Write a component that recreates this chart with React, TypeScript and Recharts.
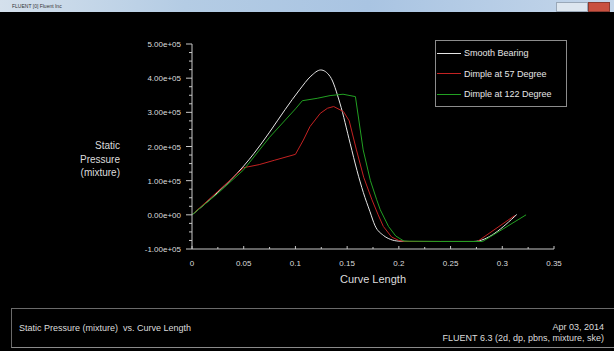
import { LineChart, Line, XAxis, YAxis, Legend } from 'recharts';

// series names as shown in the legend box
const seriesNames = ['Smooth Bearing', 'Dimple at 57 Degree', 'Dimple at 122 Degree'];

// curve length (m) / static pressure (Pa)
const smoothX = [0, 0.025, 0.05, 0.06, 0.075, 0.09, 0.104, 0.115, 0.1245, 0.1335, 0.143, 0.153, 0.1595, 0.1657, 0.172, 0.177, 0.185, 0.192, 0.2, 0.21, 0.24, 0.272, 0.314];
const smoothP = [0, 66000, 143000, 180000, 242000, 308000, 366000, 406000, 424000, 405000, 327000, 208000, 130000, 65000, 10000, -32000, -60000, -72000, -77000, -78000, -78000, -78000, 1000];

const dimple57X = [0, 0.025, 0.05, 0.055, 0.065, 0.08, 0.1, 0.1077, 0.114, 0.124, 0.131, 0.137, 0.1465, 0.152, 0.159, 0.166, 0.174, 0.18, 0.185, 0.193, 0.2, 0.205, 0.24, 0.276, 0.312];
const dimple57P = [0, 69000, 138000, 141000, 147000, 160000, 177000, 219000, 258000, 297000, 312000, 317000, 302000, 275000, 190000, 110000, 44000, 0, -34000, -65000, -75000, -78000, -78000, -78000, -2000];

const dimple122X = [0, 0.025, 0.05, 0.075, 0.1, 0.1067, 0.121, 0.1335, 0.146, 0.158, 0.1655, 0.1725, 0.1786, 0.182, 0.19, 0.197, 0.205, 0.24, 0.281, 0.323];
const dimple122P = [0, 63000, 132000, 227000, 310000, 334000, 341000, 349000, 353000, 346000, 190000, 100000, 44000, 15000, -34000, -62000, -77000, -78000, -78000, 0];

const xTicks = [0, 0.025, 0.05, 0.075, 0.1, 0.125, 0.15, 0.175, 0.2, 0.225, 0.25, 0.275, 0.3, 0.325, 0.35];
const yTicks = [-100000, -75000, -50000, -25000, 0, 25000, 50000, 75000, 100000, 125000, 150000, 175000, 200000, 225000, 250000, 275000, 300000, 325000, 350000, 375000, 400000, 425000, 450000, 475000, 500000];

const toPoints = (xs: number[], ps: number[]) => xs.map((x, i) => ({ x, p: ps[i] }));

const FONT = '"Liberation Sans", Arial, sans-serif';
const AXIS = '#c8c8c8';
const TEXT = '#dcdcdc';

const fmtExp = (v: number) => {
  const [m, e] = v.toExponential(2).split('e');
  const n = Number(e);
  return `${m}e${n < 0 ? '-' : '+'}${String(Math.abs(n)).padStart(2, '0')}`;
};

const YTick = ({ x, y, payload }: any) => {
  const v = payload.value;
  const major = v % 100000 === 0;
  return (
    <g>
      <line x1={x - (major ? 6 : 3)} x2={x} y1={y} y2={y} stroke={AXIS} />
      {major && (
        <text x={x - 11} y={y} dy={3} textAnchor='end' fill={TEXT} fontSize={8} fontFamily={FONT}>
          {fmtExp(v)}
        </text>
      )}
    </g>
  );
};

const XTick = ({ x, y, payload }: any) => {
  const v = payload.value;
  const major = Math.round(v * 1000) % 50 === 0;
  return (
    <g>
      <line x1={x} x2={x} y1={y} y2={y - (major ? 3 : 2)} stroke={AXIS} />
      {major && (
        <text x={x} y={y} dy={16.5} textAnchor='middle' fill={TEXT} fontSize={8} fontFamily={FONT}>
          {String(+v.toFixed(3))}
        </text>
      )}
    </g>
  );
};

const XLabel = ({ viewBox }: any) => (
  <text x={viewBox.x + viewBox.width / 2} y={viewBox.y + 34} textAnchor='middle' fill={TEXT} fontSize={11} fontFamily={FONT}>
    Curve Length
  </text>
);

const YLabel = ({ viewBox }: any) => {
  const right = viewBox.x + viewBox.width - 72;
  return (
    <text textAnchor='end' fill={TEXT} fontSize={10} fontFamily={FONT}>
      <tspan x={right} y={148.5}>Static</tspan>
      <tspan x={right} y={162.5}>Pressure</tspan>
      <tspan x={right} y={176}>(mixture)</tspan>
    </text>
  );
};

const LegendBox = ({ payload }: any) => {
  const items = [...(payload || [])].sort(
    (a: any, b: any) => seriesNames.indexOf(a.value) - seriesNames.indexOf(b.value)
  );
  return (
    <div
      style={{
        border: '1px solid #8c8c8c',
        width: 130,
        height: 63,
        paddingTop: 2,
        boxSizing: 'content-box',
        fontFamily: FONT,
        fontSize: 9,
        color: '#e6e6e6',
      }}
    >
      {items.map((item: any) => (
        <div key={item.value} style={{ display: 'flex', alignItems: 'center', height: 20.5 }}>
          <span style={{ display: 'inline-block', marginLeft: 1, width: 24, height: 1, background: item.color }} />
          <span style={{ marginLeft: 3, whiteSpace: 'nowrap' }}>{item.value}</span>
        </div>
      ))}
    </div>
  );
};

export default function App() {
  return (
    <div style={{ position: 'absolute', left: 0, top: 0, width: 614, height: 351, background: '#000', overflow: 'hidden' }}>
      <LineChart width={614} height={351} margin={{ top: 44, right: 60, bottom: 72, left: 0 }}>
        <XAxis
          type='number'
          dataKey='x'
          domain={[0, 0.35]}
          ticks={xTicks}
          interval={0}
          tickSize={0}
          tickMargin={0}
          tickLine={false}
          tick={<XTick />}
          axisLine={{ stroke: AXIS }}
          height={30}
          allowDataOverflow
          label={<XLabel />}
        />
        <YAxis
          type='number'
          dataKey='p'
          domain={[-100000, 500000]}
          ticks={yTicks}
          interval={0}
          tickSize={0}
          tickMargin={0}
          tickLine={false}
          tick={<YTick />}
          axisLine={{ stroke: AXIS }}
          width={192}
          allowDataOverflow
          label={<YLabel />}
        />
        <Legend
          layout='vertical'
          align='center'
          verticalAlign='middle'
          wrapperStyle={{ left: 435, top: 40, width: 132, height: 65 }}
          content={<LegendBox />}
        />
        <Line data={toPoints(smoothX, smoothP)} dataKey='p' name={seriesNames[0]} type='monotone' stroke='#e6e6e6' strokeWidth={1} dot={false} isAnimationActive={false} />
        <Line data={toPoints(dimple57X, dimple57P)} dataKey='p' name={seriesNames[1]} type='linear' stroke='#c42222' strokeWidth={1} dot={false} isAnimationActive={false} />
        <Line data={toPoints(dimple122X, dimple122P)} dataKey='p' name={seriesNames[2]} type='linear' stroke='#22a022' strokeWidth={1} dot={false} isAnimationActive={false} />
      </LineChart>

      {/* window title bar */}
      <div
        style={{
          position: 'absolute', left: 0, top: 0, width: 614, height: 12,
          background: 'linear-gradient(to right, #d4e0ec, #b4cce4 30%, #a9c4e2 60%, #c4d6ea)',
          fontFamily: FONT, fontSize: 5, color: '#333', lineHeight: '12px',
        }}
      >
        <span style={{ marginLeft: 12 }}>FLUENT [0] Fluent Inc</span>
        <div style={{ position: 'absolute', right: 26, top: 2, width: 30, height: 8, background: '#dde6ef', border: '1px solid #9aa8b8' }} />
        <div style={{ position: 'absolute', right: 4, top: 2, width: 20, height: 8, background: '#c9503f', border: '1px solid #8a3a30' }} />
      </div>

      {/* bottom info panel */}
      <div
        style={{
          position: 'absolute', left: 11, top: 308, width: 603, height: 40,
          borderTop: '1px solid #6a6a6a', borderLeft: '1px solid #6a6a6a', borderBottom: '1px solid #8a8a8a',
          fontFamily: FONT, fontSize: 9, color: TEXT, boxSizing: 'border-box',
        }}
      >
        <div style={{ position: 'absolute', left: 7, top: 14, whiteSpace: 'pre' }}>Static Pressure (mixture)  vs. Curve Length</div>
        <div style={{ position: 'absolute', right: 10, top: 13, textAlign: 'right', lineHeight: '10.5px', whiteSpace: 'pre' }}>
          Apr 03, 2014
          <br />
          FLUENT 6.3 (2d, dp, pbns, mixture, ske)
        </div>
      </div>
    </div>
  );
}
